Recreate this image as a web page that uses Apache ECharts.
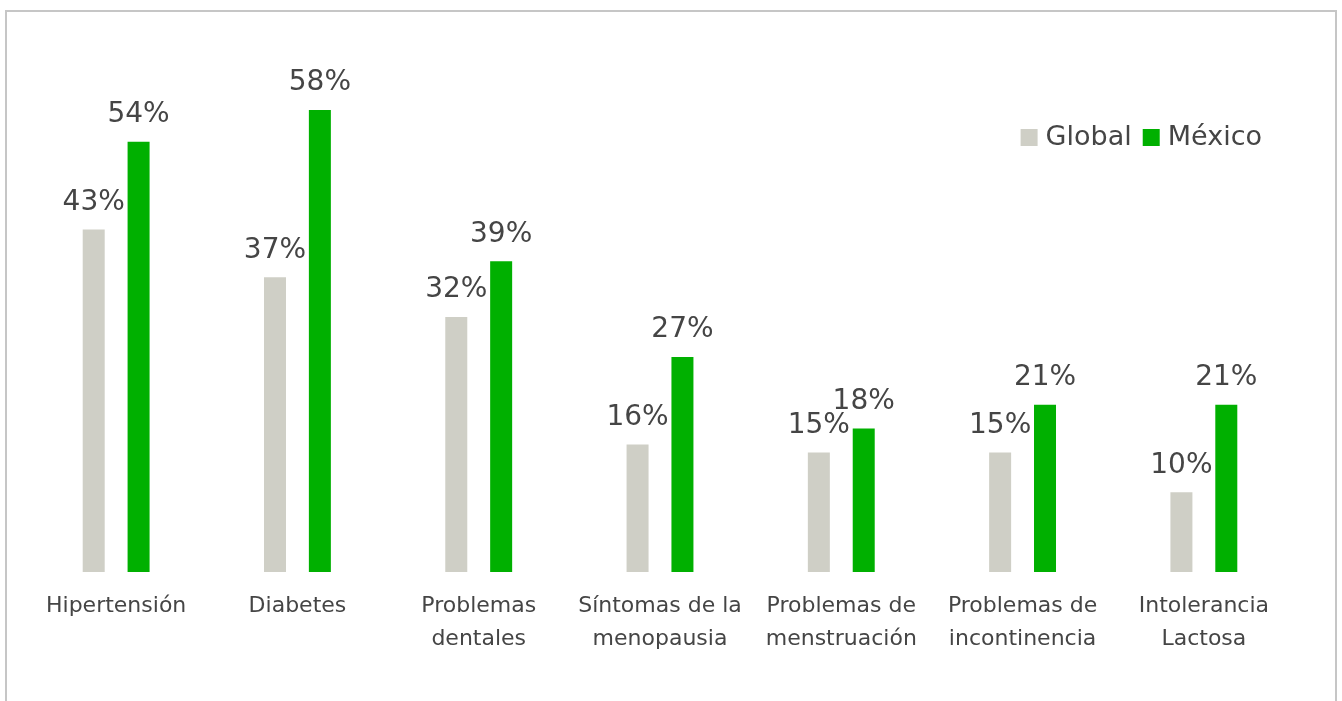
<!DOCTYPE html>
<html>
<head>
<meta charset="utf-8">
<script src="https://cdn.jsdelivr.net/npm/echarts@6/dist/echarts.min.js"></script>
<style>
html,body{margin:0;padding:0;background:#fff;}
#chart{width:1342px;height:701px;}
</style>
</head>
<body>
<div id="chart"></div>
<script>
const categories = ['Hipertensión','Diabetes','Problemas\ndentales','Síntomas de la\nmenopausia','Problemas de\nmenstruación','Problemas de\nincontinencia','Intolerancia\nLactosa'];
const globalValues = [43, 37, 32, 16, 15, 15, 10];
const mexicoValues = [54, 58, 39, 27, 18, 21, 21];
const seriesNames = ['Global', 'México'];

const FONT = '"DejaVu Sans", sans-serif';
const TEXT = '#454545';
const chart = echarts.init(document.getElementById('chart'));
const labelStyle = {
  show: true, position: 'top', distance: 13,
  formatter: p => p.value + '%',
  fontFamily: FONT, fontSize: 28, color: TEXT
};
chart.setOption({
  animation: false,
  graphic: [{
    type: 'rect', silent: true,
    shape: {x: 6, y: 11, width: 1330, height: 720},
    style: {fill: 'none', stroke: '#c6c6c6', lineWidth: 2}
  }],
  legend: {
    right: 75, top: 119,
    itemWidth: 17, itemHeight: 17, itemGap: 11,
    icon: 'rect',
    textStyle: {fontFamily: FONT, fontSize: 27, color: TEXT, padding: [0,0,0,3]},
    data: seriesNames
  },
  grid: {left: 25.5, right: 47.5, top: 94, bottom: 129},
  xAxis: {
    type: 'category', data: categories,
    axisLine: {show: false}, axisTick: {show: false},
    axisLabel: {
      interval: 0, margin: 18,
      fontFamily: FONT, fontSize: 22, lineHeight: 33, color: TEXT
    }
  },
  yAxis: {
    type: 'value', min: 0, max: 60, show: false,
    splitLine: {show: false}
  },
  series: [
    {name: seriesNames[0], type: 'bar', data: globalValues, barWidth: 22, barGap: '104%',
     itemStyle: {color: '#cfcfc6'}, label: labelStyle},
    {name: seriesNames[1], type: 'bar', data: mexicoValues, barWidth: 22,
     itemStyle: {color: '#00b000'}, label: labelStyle}
  ]
});
</script>
</body>
</html>
